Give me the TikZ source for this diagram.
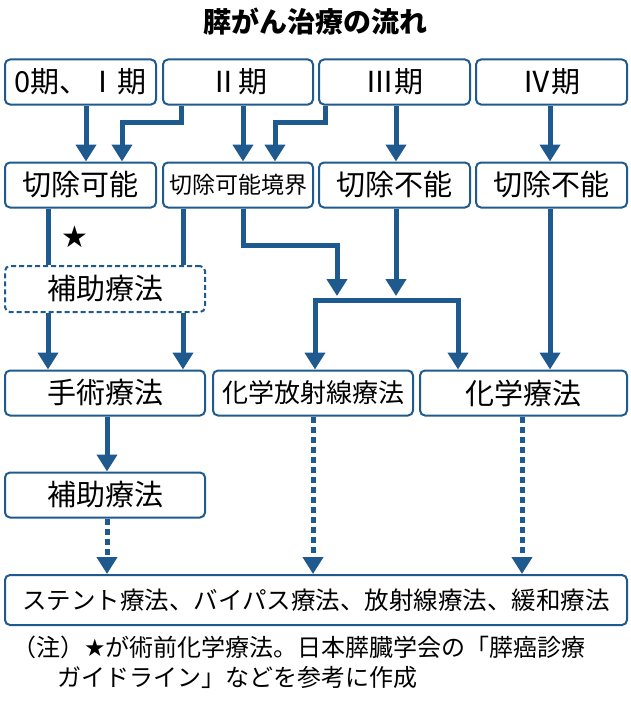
\documentclass[tikz,border=0pt]{standalone}
\usepackage{fontspec}
\setmainfont{Noto Sans CJK JP}
\usetikzlibrary{arrows.meta}
\definecolor{bl}{HTML}{1F5A8F}
\begin{document}
\begin{tikzpicture}[x=1pt,y=-1pt,
 bx/.style={draw=bl,line width=2pt,rounded corners=5pt,fill=white,inner sep=0pt,font=\fontsize{29}{31}\selectfont},
 ar/.style={draw=bl,line width=5pt,-{Triangle[width=20pt,length=17pt]}},
 da/.style={ar,dash pattern=on 6pt off 4pt}]
\useasboundingbox (0,0) rectangle (630,701);
\node[font=\bfseries\fontsize{28}{30}\selectfont] (title) at (315,22) {膵がん治療の流れ};
\node[bx,minimum width=151pt,minimum height=45pt] (s0) at (80.5,82) {0期、Ⅰ期};
\node[bx,minimum width=150pt,minimum height=45pt] (s2) at (238,82) {Ⅱ期};
\node[bx,minimum width=151pt,minimum height=45pt] (s3) at (394.5,82) {Ⅲ期};
\node[bx,minimum width=151pt,minimum height=45pt] (s4) at (551.5,82) {Ⅳ期};
\node[bx,minimum width=151pt,minimum height=45pt] (r1) at (80.5,185) {切除可能};
\node[bx,minimum width=150pt,minimum height=45pt,font=\fontsize{23}{25}\selectfont] (r2) at (238,185) {切除可能境界};
\node[bx,minimum width=151pt,minimum height=45pt] (r3) at (394.5,185) {切除不能};
\node[bx,minimum width=151pt,minimum height=45pt] (r4) at (551.5,185) {切除不能};
\node[bx,dashed,dash pattern=on 5pt off 3pt,minimum width=200pt,minimum height=46pt] (adj1) at (105,289) {補助療法};
\node[bx,minimum width=200pt,minimum height=45pt] (surg) at (105,393) {手術療法};
\node[bx,minimum width=200pt,minimum height=45pt,font=\fontsize{26}{28}\selectfont] (crt) at (313,393) {化学放射線療法};
\node[bx,minimum width=207pt,minimum height=45pt] (chemo) at (523.5,393) {化学療法};
\node[bx,minimum width=200pt,minimum height=45pt] (adj2) at (105,495) {補助療法};
\node[bx,minimum width=622pt,minimum height=50pt,font=\fontsize{24.5}{26}\selectfont] (pal) at (316,600) {ステント療法、バイパス療法、放射線療法、緩和療法};
\node (star) at (75,237) {\fontspec{DejaVu Sans}\fontsize{30}{32}\selectfont ★};
\draw[ar] (s0.south -| 86,0) -- (r1.north -| 86,0);
\draw[ar] (s2.south -| 181,0) -- (181,122) -- (122,122) -- (r1.north -| 122,0);
\draw[ar] (s2.south -| 243,0) -- (r2.north -| 243,0);
\draw[ar] (s3.south -| 325,0) -- (325,122) -- (275,122) -- (r2.north -| 275,0);
\draw[ar] (s3.south -| 396,0) -- (r3.north -| 396,0);
\draw[ar] (s4.south -| 550,0) -- (r4.north -| 550,0);
\draw[draw=bl,line width=5pt] (r1.south -| 48,0) -- (adj1.north -| 48,0);
\draw[draw=bl,line width=5pt] (r2.south -| 183,0) -- (adj1.north -| 183,0);
\draw[ar] (adj1.south -| 48,0) -- (surg.north -| 48,0);
\draw[ar] (adj1.south -| 183,0) -- (surg.north -| 183,0);
\coordinate (jn) at (337,296);
\coordinate (jn2) at (396,296);
\draw[ar] (r2.south -| 243,0) -- (243,245) -- (337,245) -- (jn);
\draw[ar] (r3.south -| 396,0) -- (jn2);
\draw[ar,-] (315,300) -- (458,300);
\draw[ar,shorten <=-2.5pt] (315,300) -- (crt.north -| 315,0);
\draw[ar,shorten <=-2.5pt] (458,300) -- (chemo.north -| 458,0);
\draw[ar] (r4.south -| 550,0) -- (chemo.north -| 550,0);
\draw[ar] (surg.south -| 107,0) -- (adj2.north -| 107,0);
\draw[da] (adj2.south -| 107,0) -- (pal.north -| 107,0);
\draw[da] (crt.south -| 313,0) -- (pal.north -| 313,0);
\draw[da] (chemo.south -| 522,0) -- (pal.north -| 522,0);
\node[anchor=north west,align=left,inner sep=0pt,font=\fontsize{24}{30}\selectfont] (note) at (12,636) {（注）{\fontspec{DejaVu Sans}★}が術前化学療法。日本膵臓学会の「膵癌診療\\\hspace{1.9em}ガイドライン」などを参考に作成};
\end{tikzpicture}
\end{document}
